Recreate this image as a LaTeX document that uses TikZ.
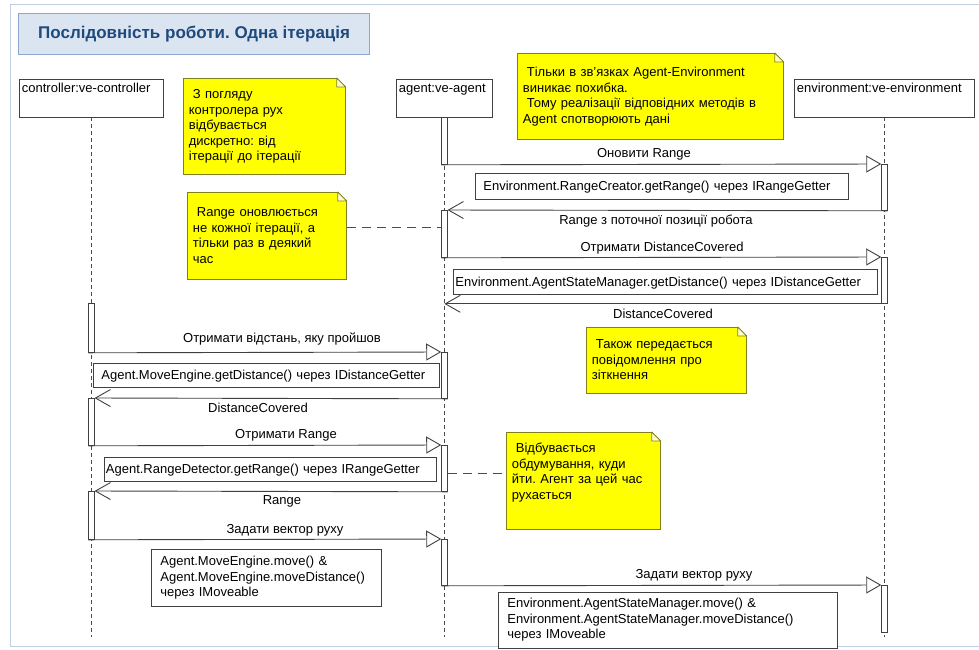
\documentclass[tikz,border=0pt]{standalone}
\usepackage{fontspec}
\setmainfont{Liberation Sans}
\usetikzlibrary{arrows.meta}
\frenchspacing
\definecolor{linegray}{rgb}{0.25, 0.25, 0.25}
\definecolor{lifegray}{rgb}{0.3, 0.3, 0.3}
\definecolor{noteyellow}{rgb}{1, 1, 0}
\definecolor{noteline}{rgb}{0.5, 0.5, 0.12}
\definecolor{foldyellow}{rgb}{1, 1, 0.78}
\definecolor{titleblue}{rgb}{0.12, 0.29, 0.49}
\definecolor{titlefill}{rgb}{0.86, 0.90, 0.95}
\definecolor{titleline}{rgb}{0.55, 0.66, 0.80}
\definecolor{framecol}{rgb}{0.75, 0.81, 0.89}

\tikzset{
  head/.style={draw=linegray, fill=white, line width=0.8pt, anchor=north west, inner xsep=2.5pt, inner ysep=0pt, text height=13.5pt, text depth=24.5pt},
  note/.style={fill=noteyellow, draw=noteline, line width=0.8pt, anchor=north west, inner xsep=5.5pt, inner ysep=0pt, align=left},
  callbox/.style={draw=linegray, fill=white, line width=0.8pt, anchor=north west, inner ysep=0pt, align=left},
  bar/.style={draw=linegray, fill=white, line width=0.8pt, anchor=north west, inner sep=0pt, minimum width=5.5pt},
  lifeline/.style={lifegray, line width=0.8pt, dash pattern=on 4pt off 3pt},
  call/.style={linegray, line width=0.9pt, -{Triangle[open, length=15pt, width=17pt]}},
  ret/.style={linegray, line width=0.9pt, -{Straight Barb[length=15pt, width=17pt]}},
  notelink/.style={lifegray, line width=0.9pt, dash pattern=on 9pt off 6pt}
}

% folded corner of a note
\newcommand{\notefold}[1]{%
  \fill [white] ([xshift=-9.5pt, yshift=1pt]#1.north east) -- ([xshift=1pt, yshift=1pt]#1.north east) -- ([xshift=1pt, yshift=-9.5pt]#1.north east) -- cycle;
  \draw [noteline, line width=0.8pt, fill=foldyellow, line join=round] ([xshift=-9pt]#1.north east) -- ([yshift=-9pt]#1.north east) -- ([xshift=-9pt, yshift=-9pt]#1.north east) -- cycle;}

\begin{document}
\begin{tikzpicture}[x=1pt, y=-1pt, every node/.style={font=\fontsize{13}{15.5}\selectfont}]
\useasboundingbox (0,0) rectangle (979,649);
%\draw [very thin, gray] (0,0) grid [step=50] (979,649);
\draw [framecol, line width=1pt] (979,4) -- (10,4) -- (10,646) -- (979,646);
\node [draw=titleline, fill=titlefill, line width=1.2pt, anchor=north west, minimum width=351pt, minimum height=41pt, text=titleblue, font=\fontsize{17}{20}\selectfont\bfseries] (title) at (18,13) {Послідовність роботи. Одна ітерація};

% objects and lifelines
\draw [lifeline] (91,117) -- (91,637);
\draw [lifeline] (444,117) -- (444,637);
\draw [lifeline] (884,117) -- (884,637);
\node [head, text width=139pt] (ctrl) at (19,79) {controller:ve-controller};
\node [head, text width=91pt] (agent) at (396,79) {agent:ve-agent};
\node [head, text width=175pt] (env) at (794,79) {environment:ve-environment};

% notes
\node [note, text width=151pt, text height=20.5pt, text depth=75.5pt] (note1) at (183,78) {\hspace*{4pt}З погляду\\контролера рух\\відбувається\\дискретно: від\\ітерації до ітерації};
\notefold{note1}
\node [note, text width=255pt, text height=23.5pt, text depth=62.5pt] (note2) at (517,53) {\hspace*{4pt}Тільки в зв'язках Agent-Environment\\виникає похибка.\\\hspace*{4pt}Тому реалізації відповідних методів в\\Agent спотворюють дані};
\notefold{note2}
\node [note, text width=148pt, text height=24.5pt, text depth=62.5pt] (note3) at (187,192) {\hspace*{4pt}Range оновлюється\\не кожної ітерації, а\\тільки раз в деякий\\час};
\notefold{note3}
\node [note, text width=149pt, text height=21.5pt, text depth=44.5pt] (note4) at (586,327) {\hspace*{4pt}Також передається\\повідомлення про\\зіткнення};
\notefold{note4}
\node [note, text width=143pt, text height=20.5pt, text depth=76.5pt] (note5) at (506,432) {\hspace*{4pt}Відбувається\\обдумування, куди\\йти. Агент за цей час\\рухається};
\notefold{note5}

% activations
\node [bar, minimum height=47pt] (a1) at (441.25,117) {};
\node [bar, minimum height=46pt] (e1) at (881.25,164) {};
\node [bar, minimum height=47pt] (a2) at (441.25,210) {};
\node [bar, minimum height=46pt] (e2) at (881.25,257) {};
\node [bar, minimum height=49pt] (c1) at (88.25,303) {};
\node [bar, minimum height=46pt] (a3) at (441.25,352) {};
\node [bar, minimum height=47pt] (c2) at (88.25,398) {};
\node [bar, minimum height=46pt] (a4) at (441.25,445) {};
\node [bar, minimum height=48pt] (c3) at (88.25,491) {};
\node [bar, minimum height=46pt] (a5) at (441.25,539) {};
\node [bar, minimum height=47pt] (e3) at (881.25,585) {};

% messages
\draw [call] (a1.south west) -- (e1.north west);
\draw [ret] (e1.south east) -- (a2.north east);
\draw [call] (a2.south west) -- (e2.north west);
\draw [ret] (e2.south east) -- (agent.south |- e2.south);
\draw [call] (c1.south west) -- (a3.north west);
\draw [ret] (a3.south east) -- (c2.north east);
\draw [call] (c2.south west) -- (a4.north west);
\draw [ret] (a4.south east) -- (c3.north east);
\draw [call] (c3.south west) -- (a5.north west);
\draw [call] (a5.south west) -- (e3.north west);
\draw [notelink] ([yshift=8.5pt]note3.east) -- ([yshift=8.5pt]note3.east -| a2.west);
\draw [notelink] ([yshift=-5pt]a4.east) -- ([yshift=-5pt]a4.east -| note5.west);

% message labels
\node (m1) at (644,154) {Оновити Range};
\node (r1) at (656,221) {Range з поточної позиції робота};
\node (m2) at (662,248) {Отримати DistanceCovered};
\node (r2) at (663,314) {DistanceCovered};
\node (m3) at (282,339) {Отримати відстань, яку пройшов};
\node (r3) at (258,408) {DistanceCovered};
\node (m4) at (286,435) {Отримати Range};
\node (r4) at (282,501) {Range};
\node (m5) at (285,530) {Задати вектор руху};
\node (m6) at (694,575) {Задати вектор руху};

% method boxes
\node [callbox, inner xsep=8pt, text width=357pt, text height=17.5pt, text depth=8.5pt] (b1) at (475,173) {Environment.RangeCreator.getRange() через IRangeGetter};
\node [callbox, inner xsep=2pt, text width=420pt, text height=17pt, text depth=8pt] (b2) at (453,269) {Environment.AgentStateManager.getDistance() через IDistanceGetter};
\node [callbox, inner xsep=8pt, text width=330pt, text height=16.5pt, text depth=7.5pt] (b3) at (93,363) {Agent.MoveEngine.getDistance() через IDistanceGetter};
\node [callbox, inner xsep=1.5pt, text width=329pt, text height=16.5pt, text depth=7.5pt] (b4) at (104,457) {Agent.RangeDetector.getRange() через IRangeGetter};
\node [callbox, inner xsep=9pt, text width=212pt, text height=16.5pt, text depth=40.5pt] (b5) at (151,549) {Agent.MoveEngine.move() \&\\Agent.MoveEngine.moveDistance()\\через IMoveable};
\node [callbox, inner xsep=9pt, text width=321pt, text height=15.5pt, text depth=40.5pt] (b6) at (498,592) {Environment.AgentStateManager.move() \&\\Environment.AgentStateManager.moveDistance()\\через IMoveable};
\end{tikzpicture}
\end{document}
